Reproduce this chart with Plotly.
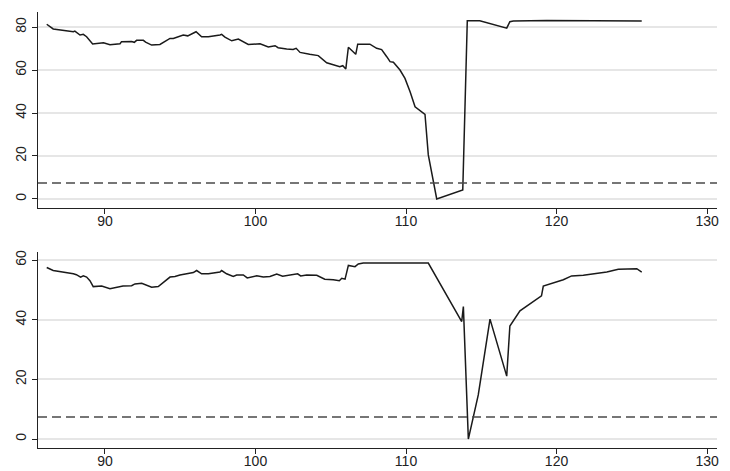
import plotly.graph_objects as go
from plotly.subplots import make_subplots

# ---- data ----
top_x = [86.13, 86.56, 87.9, 88.0, 88.34, 88.56, 88.78, 89.18, 89.9, 90.33, 91.0, 91.1, 91.77, 91.95, 92.1,
         92.55, 92.7, 93.1, 93.65, 93.99, 94.32, 94.54, 94.76, 95.2, 95.5, 96.05, 96.42, 96.87, 97.64, 97.75,
         97.97, 98.42, 98.86, 99.52, 100.3, 100.85, 101.3, 101.5, 102.07, 102.5, 102.7, 102.96, 103.6, 104.17,
         104.73, 105.17, 105.6, 105.8, 106.0, 106.17, 106.66, 106.79, 107.6, 108.05, 108.38, 108.72, 108.94,
         109.16, 109.6, 109.93, 110.27, 110.6, 110.93, 111.26, 111.48, 112.04, 113.77, 114.07, 114.9, 116.69,
         116.9, 117.13, 119.35, 125.33, 125.66]
top_y = [81.3, 79.1, 77.8, 78.1, 76.3, 76.6, 75.5, 72.1, 72.7, 71.8, 72.2, 73.2, 73.3, 72.9, 73.8,
         73.8, 73.0, 71.6, 71.9, 73.2, 74.7, 74.7, 75.3, 76.3, 75.9, 77.8, 75.5, 75.5, 76.3, 76.6,
         75.3, 73.6, 74.4, 71.9, 72.2, 70.7, 71.3, 70.4, 69.8, 69.6, 70.1, 68.2, 67.3, 66.7,
         63.4, 62.6, 61.5, 62.0, 60.5, 70.6, 67.3, 72.0, 72.0, 70.1, 69.5, 66.2, 63.9,
         63.6, 60.0, 56.1, 49.9, 42.9, 41.1, 39.4, 20.5, 0.0, 4.2, 82.9, 82.9, 79.5,
         82.5, 82.8, 83.1, 83.1, 82.8]

bot_x = [86.13, 86.56, 87.9, 88.1, 88.38, 88.56, 88.78, 89.0, 89.22, 89.78, 90.33, 90.88, 91.2, 91.77, 91.99,
         92.44, 92.77, 93.1, 93.54, 93.99, 94.32, 94.65, 94.98, 95.43, 95.87, 96.09, 96.42, 96.87, 97.64,
         97.75, 98.08, 98.52, 98.75, 99.19, 99.45, 100.08, 100.52, 100.96, 101.41, 101.8, 102.3, 102.8, 103.0,
         103.4, 104.07, 104.6, 105.17, 105.57, 105.73, 105.95, 106.17, 106.61, 106.83, 107.16, 111.48,
         113.7, 113.81, 114.14, 114.8, 115.58, 116.69, 116.9, 117.57, 119.0, 119.12, 120.45, 121.0, 121.78,
         123.34, 124.1, 125.33, 125.66]
bot_y = [57.5, 56.5, 55.4, 55.1, 54.3, 54.7, 54.3, 53.1, 51.1, 51.3, 50.4, 50.9, 51.3, 51.4, 52.0,
         52.2, 51.6, 50.9, 51.1, 53.1, 54.3, 54.5, 55.0, 55.4, 55.8, 56.5, 55.4, 55.4, 56.0,
         56.5, 55.4, 54.5, 55.0, 55.0, 54.0, 54.7, 54.3, 54.5, 55.3, 54.6, 55.0, 55.4, 54.7,
         55.0, 54.9, 53.6, 53.4, 53.1, 53.9, 53.6, 58.2, 57.8, 58.7, 59.0, 59.0,
         39.4, 44.4, 0.0, 14.8, 40.2, 21.1, 37.9, 43.0, 48.0, 51.3, 53.4, 54.7, 54.9,
         56.0, 56.9, 57.1, 56.0]

threshold = 7.4
x_ticks = [90, 100, 110, 120, 130]
top_y_ticks = [0, 20, 40, 60, 80]
bot_y_ticks = [0, 20, 40, 60]

fig = make_subplots(rows=2, cols=1, vertical_spacing=0.101)

fig.add_trace(go.Scatter(x=top_x, y=top_y, mode="lines",
                         line=dict(color="#1a1a1a", width=1.5), showlegend=False), row=1, col=1)
fig.add_trace(go.Scatter(x=bot_x, y=bot_y, mode="lines",
                         line=dict(color="#1a1a1a", width=1.5), showlegend=False), row=2, col=1)

for xref, yref in [("x domain", "y"), ("x2 domain", "y2")]:
    fig.add_shape(type="line", xref=xref, yref=yref, x0=0, x1=1, y0=threshold, y1=threshold,
                  line=dict(color="#4a4a4a", width=1.4, dash="9px,5px"), layer="above")

font = dict(family="Liberation Sans, Arial, sans-serif", size=14, color="#222")

xaxis_common = dict(range=[85.55, 130.66], tickvals=x_ticks, showgrid=False, zeroline=False,
                    showline=True, linecolor="#222", linewidth=1.2, ticks="outside", ticklen=5,
                    tickcolor="#222", tickfont=font, automargin=False, ticklabelstandoff=-5)
fig.update_xaxes(**xaxis_common, row=1, col=1)
fig.update_xaxes(**xaxis_common, row=2, col=1)

yaxis_common = dict(showgrid=True, gridcolor="#e6e6e6", gridwidth=1.5, zeroline=False,
                    showline=True, linecolor="#222", linewidth=1.2, ticks="outside", ticklen=5,
                    tickcolor="#222", tickfont=font, tickangle=-90, automargin=False)
fig.update_yaxes(**yaxis_common, range=[-4.2, 87], tickvals=top_y_ticks, row=1, col=1)
fig.update_yaxes(**yaxis_common, range=[-3, 62.7], tickvals=bot_y_ticks, row=2, col=1)

# page body has an 8px margin, so the figure is sized/offset to land on the reference's pixels
fig.update_layout(width=722, height=463, margin=dict(l=30, r=13, t=4, b=23),
                  paper_bgcolor="white", plot_bgcolor="white")
fig.write_html("out.html")
